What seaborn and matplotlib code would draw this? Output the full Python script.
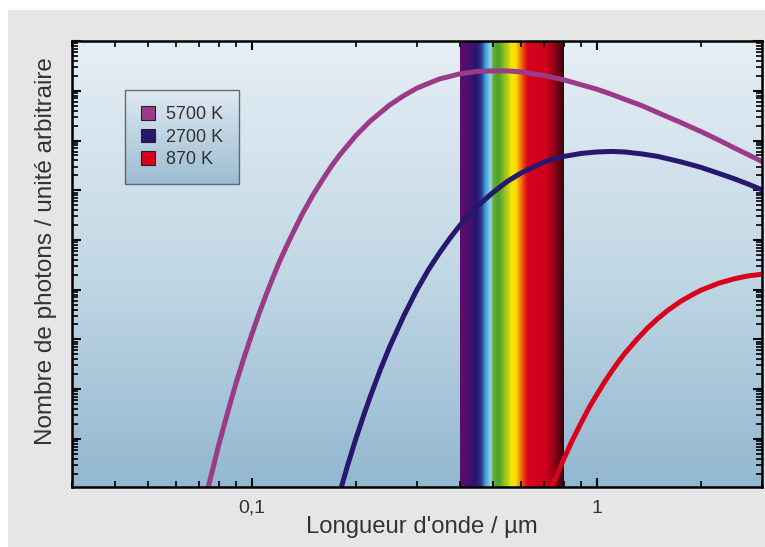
import numpy as np
import pandas as pd
import matplotlib
matplotlib.use("Agg")
import matplotlib.pyplot as plt
from matplotlib.colors import LinearSegmentedColormap
from matplotlib.patches import Patch, Rectangle
from matplotlib.ticker import FixedLocator, LogLocator, NullFormatter, FuncFormatter
import seaborn as sns

# Wavelength (µm) and photon count, as decades (log10)
wl_5700 = [0.074, 0.08, 0.085, 0.09, 0.095, 0.1, 0.105, 0.11, 0.115, 0.12, 0.125, 0.13,
           0.14, 0.15, 0.16, 0.17, 0.18, 0.2, 0.22, 0.25, 0.275, 0.3, 0.325, 0.35,
           0.375, 0.4, 0.45, 0.5, 0.55, 0.6, 0.65, 0.7, 0.8, 0.9, 1.0, 1.1, 1.2,
           1.35, 1.5, 1.75, 2.0, 2.25, 2.5, 2.75, 3.0]
dec_5700 = [-0.07, 0.87, 1.54, 2.14, 2.66, 3.12, 3.54, 3.91, 4.25, 4.56, 4.83, 5.08,
            5.53, 5.90, 6.21, 6.49, 6.72, 7.10, 7.39, 7.71, 7.90, 8.05, 8.15, 8.24,
            8.29, 8.34, 8.39, 8.40, 8.40, 8.38, 8.34, 8.31, 8.22, 8.12, 8.03, 7.93, 7.83,
            7.70, 7.56, 7.36, 7.18, 7.01, 6.85, 6.71, 6.58]

wl_2700 = [0.18, 0.19, 0.2, 0.21, 0.22, 0.235, 0.25, 0.275, 0.3, 0.325, 0.35, 0.375,
           0.4, 0.425, 0.45, 0.5, 0.55, 0.6, 0.65, 0.7, 0.75, 0.8, 0.9, 1.0, 1.1,
           1.2, 1.35, 1.5, 1.75, 2.0, 2.25, 2.5, 2.75, 3.0]
dec_2700 = [-0.05, 0.51, 1.01, 1.45, 1.85, 2.38, 2.84, 3.47, 3.99, 4.41, 4.75, 5.04,
            5.29, 5.50, 5.68, 5.96, 6.18, 6.34, 6.46, 6.56, 6.63, 6.68, 6.74, 6.77, 6.78,
            6.77, 6.73, 6.68, 6.57, 6.46, 6.34, 6.23, 6.12, 6.01]

wl_870 = [0.7, 0.75, 0.8, 0.85, 0.9, 0.95, 1.0, 1.05, 1.1, 1.15, 1.2, 1.3, 1.4,
          1.5, 1.6, 1.75, 1.9, 2.0, 2.25, 2.5, 2.75, 3.0]
dec_870 = [-0.40, 0.14, 0.59, 0.99, 1.33, 1.64, 1.90, 2.14, 2.35, 2.54, 2.71, 2.99, 3.23,
           3.42, 3.58, 3.77, 3.91, 3.99, 4.13, 4.22, 4.28, 4.31]

temperatures = ["5700 K", "2700 K", "870 K"]
line_colors = ["#9b3b87", "#27176f", "#d9001c"]
visible_band = (0.4, 0.8)
x_limits = (0.03, 3.0)
y_limits = (10 ** 0.024, 1e9)
x_tick_values = [0.1, 1]
x_tick_labels = ["0,1", "1"]

frames = []
for name, wl, dec in zip(temperatures, [wl_5700, wl_2700, wl_870], [dec_5700, dec_2700, dec_870]):
    frames.append(pd.DataFrame({
        "wavelength": wl,
        "photons": np.power(10.0, dec),
        "temperature": name,
    }))
df = pd.concat(frames, ignore_index=True)

sns.set_style("ticks")
plt.rcParams["font.family"] = ["Liberation Sans", "DejaVu Sans"]
plt.rcParams["axes.axisbelow"] = False

fig = plt.figure(figsize=(7.65, 5.47), dpi=100)
fig.patch.set_facecolor("white")
fig.add_artist(Rectangle((8 / 765, 0), 1, 537 / 547, transform=fig.transFigure,
                         facecolor="#e6e6e6", edgecolor="none", zorder=-10))

ax = fig.add_axes([0.0937, 0.1088, 0.902, 0.8162])
ax.set_xscale("log")
ax.set_yscale("log")

# background gradient of the plot area
bg_cmap = LinearSegmentedColormap.from_list("bg", ["#92b7cf", "#c3d8e5", "#e5eef5"])
ys = np.geomspace(y_limits[0], y_limits[1], 201)
ax.pcolormesh(list(x_limits), ys, np.linspace(0, 1, 200).reshape(-1, 1),
              cmap=bg_cmap, shading="flat", zorder=0, rasterized=True)

# visible spectrum band
band_cmap = LinearSegmentedColormap.from_list("band", [
    (0.00, "#5c0e70"), (0.08, "#4b0f6e"), (0.16, "#26166e"), (0.21, "#2c3f95"),
    (0.24, "#3b95d3"), (0.27, "#5bbbe6"), (0.295, "#9fd0d8"), (0.32, "#69af3e"),
    (0.37, "#47a02a"), (0.45, "#a9c81e"), (0.50, "#f2e800"), (0.54, "#f7dc00"),
    (0.58, "#f08c00"), (0.63, "#e2201a"), (0.66, "#d8001c"), (0.84, "#cc001c"),
    (0.92, "#8a0016"), (1.00, "#3a0010"),
])
xs = np.geomspace(visible_band[0], visible_band[1], 301)
ax.pcolormesh(xs, list(y_limits), np.linspace(0, 1, 300).reshape(1, -1),
              cmap=band_cmap, shading="flat", zorder=1, rasterized=True)

sns.lineplot(data=df, x="wavelength", y="photons", hue="temperature",
             palette=dict(zip(temperatures, line_colors)), hue_order=temperatures,
             linewidth=3.6, legend=False, ax=ax, zorder=3)

ax.set_xlim(*x_limits)
ax.set_ylim(*y_limits)

# ticks
ax.xaxis.set_major_locator(FixedLocator(x_tick_values))
ax.xaxis.set_major_formatter(FuncFormatter(lambda v, p: dict(zip(x_tick_values, x_tick_labels)).get(round(v, 3), "")))
ax.xaxis.set_minor_locator(LogLocator(base=10, subs=np.arange(2, 10), numticks=20))
ax.xaxis.set_minor_formatter(NullFormatter())
ax.yaxis.set_major_locator(FixedLocator([10.0 ** d for d in range(0, 10)]))
ax.yaxis.set_minor_locator(FixedLocator([m * 10.0 ** d for d in range(0, 9) for m in range(2, 10)]))
ax.yaxis.set_major_formatter(NullFormatter())
ax.yaxis.set_minor_formatter(NullFormatter())
ax.tick_params(which="both", direction="in", top=True, right=True, left=True, bottom=True, color="black")
ax.tick_params(which="major", length=6.5, width=1.5, labelsize=14, labelcolor="#333333", pad=9)
ax.tick_params(which="minor", length=4.0, width=1.2)
for s in ax.spines.values():
    s.set_linewidth(1.8)
    s.set_color("black")
    s.set_zorder(4)

ax.set_xlabel("Longueur d'onde / µm", fontsize=17.2, color="#333333")
ax.set_ylabel("Nombre de photons / unité arbitraire", fontsize=17.5, color="#333333")
ax.xaxis.set_label_coords(0.507, -0.063)
ax.yaxis.set_label_coords(-0.021, 0.530)

# legend
handles = [Patch(facecolor=c, edgecolor="#222222", linewidth=0.8) for c in line_colors]
leg = ax.legend(handles, temperatures, loc="upper left", bbox_to_anchor=(0.0772, 0.890),
                borderaxespad=0, fontsize=13, fancybox=False, frameon=True,
                handlelength=0.75, handleheight=0.75, handletextpad=0.6,
                labelspacing=0.3, borderpad=0.9)
leg.get_frame().set_edgecolor("#4a4a4a")
leg.get_frame().set_linewidth(1.0)
leg.get_frame().set_facecolor("none")
for t in leg.get_texts():
    t.set_color("#333333")
leg.set_zorder(6)

# gradient behind the legend box
fig.canvas.draw()
bb = leg.get_window_extent().transformed(ax.transAxes.inverted())
leg_ax = ax.inset_axes([bb.x0, bb.y0, bb.width, bb.height], zorder=5)
leg_ax.imshow(np.linspace(1, 0, 100).reshape(-1, 1), aspect="auto",
              cmap=LinearSegmentedColormap.from_list("lg", ["#9bbdd3", "#dfe9f1"]))
leg_ax.set_axis_off()

fig.savefig("out.png", dpi=100)
